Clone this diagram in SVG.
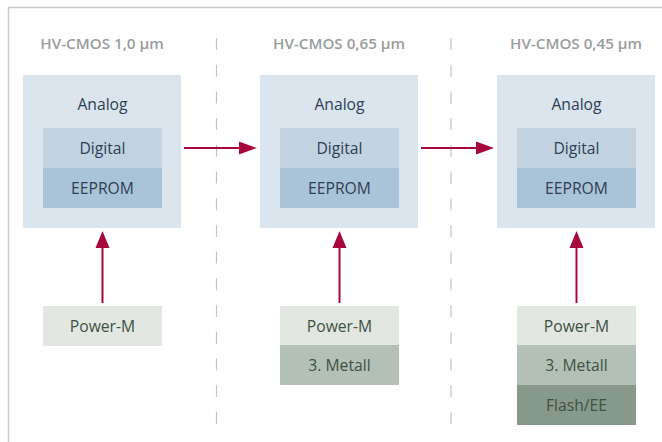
<svg xmlns="http://www.w3.org/2000/svg" width="662" height="442" viewBox="0 0 662 442">
  <style>
    .frame { fill: none; stroke: #c6d0c7; stroke-width: 1.5; }
    .sep { fill: none; stroke: #b9c9bd; stroke-width: 1.2; stroke-dasharray: 12 14.7; }
    .title { font-family: "Open Sans", "Liberation Sans", sans-serif; font-weight: 600; font-size: 15.2px; fill: #9a9c9c; text-anchor: middle; }
    .lbl { font-family: "Open Sans", "Liberation Sans", sans-serif; font-size: 15.7px; fill: #2c3f55; text-anchor: middle; }
    .lblg { font-family: "Open Sans", "Liberation Sans", sans-serif; font-size: 15.7px; fill: #3d5244; text-anchor: middle; }
    .analog { fill: #dbe5ed; }
    .digital { fill: #c3d3e1; }
    .eeprom { fill: #abc3d6; }
    .power { fill: #e2e7e1; }
    .metall { fill: #b3c0b5; }
    .flash { fill: #87998a; }
    .conn { stroke: #a6083d; stroke-width: 2; fill: none; }
    .head { fill: #a6083d; }
  </style>

  <!-- frame and column separators -->
  <path class="frame" d="M8.5,442 V7.5 H662"/>
  <line class="sep" x1="216.5" y1="38" x2="216.5" y2="424"/>
  <line class="sep" x1="451" y1="38" x2="451" y2="424"/>

  <!-- column titles -->
  <text class="title" x="102" y="49">HV-CMOS 1,0 µm</text>
  <text class="title" x="339" y="49">HV-CMOS 0,65 µm</text>
  <text class="title" x="576" y="49">HV-CMOS 0,45 µm</text>

  <!-- generation 1 -->
  <g id="chip1">
    <rect class="analog" x="23" y="75" width="158" height="153"/>
    <text class="lbl" x="102.5" y="110">Analog</text>
    <rect class="digital" x="43" y="128" width="119" height="40"/>
    <text class="lbl" x="102.5" y="154">Digital</text>
    <rect class="eeprom" x="43" y="168" width="119" height="40"/>
    <text class="lbl" x="102.5" y="194">EEPROM</text>
  </g>
  <g id="process1">
    <rect class="power" x="43" y="306" width="119" height="40"/>
    <text class="lblg" x="102.5" y="332">Power-M</text>
  </g>

  <!-- generation 2 -->
  <g id="chip2">
    <rect class="analog" x="260" y="75" width="158" height="153"/>
    <text class="lbl" x="339.5" y="110">Analog</text>
    <rect class="digital" x="280" y="128" width="119" height="40"/>
    <text class="lbl" x="339.5" y="154">Digital</text>
    <rect class="eeprom" x="280" y="168" width="119" height="40"/>
    <text class="lbl" x="339.5" y="194">EEPROM</text>
  </g>
  <g id="process2">
    <rect class="power" x="280" y="306" width="119" height="39"/>
    <text class="lblg" x="339.5" y="332">Power-M</text>
    <rect class="metall" x="280" y="345" width="119" height="40"/>
    <text class="lblg" x="339.5" y="371">3. Metall</text>
  </g>

  <!-- generation 3 -->
  <g id="chip3">
    <rect class="analog" x="497" y="75" width="158" height="153"/>
    <text class="lbl" x="576.5" y="110">Analog</text>
    <rect class="digital" x="517" y="128" width="119" height="40"/>
    <text class="lbl" x="576.5" y="154">Digital</text>
    <rect class="eeprom" x="517" y="168" width="119" height="40"/>
    <text class="lbl" x="576.5" y="194">EEPROM</text>
  </g>
  <g id="process3">
    <rect class="power" x="517" y="306" width="119" height="39"/>
    <text class="lblg" x="576.5" y="332">Power-M</text>
    <rect class="metall" x="517" y="345" width="119" height="40"/>
    <text class="lblg" x="576.5" y="371">3. Metall</text>
    <rect class="flash" x="517" y="385" width="119" height="40"/>
    <text class="lblg" x="576.5" y="411">Flash/EE</text>
  </g>

  <!-- connectors -->
  <g id="connectors">
    <line class="conn" x1="184" y1="148" x2="241" y2="148"/>
    <polygon class="head" points="239,141.5 257,148 239,154.5"/>
    <line class="conn" x1="421" y1="148" x2="478" y2="148"/>
    <polygon class="head" points="476,141.5 494,148 476,154.5"/>

    <line class="conn" x1="102.5" y1="303" x2="102.5" y2="246"/>
    <polygon class="head" points="95.5,248 102.5,231 109.5,248"/>
    <line class="conn" x1="339.5" y1="303" x2="339.5" y2="246"/>
    <polygon class="head" points="332.5,248 339.5,231 346.5,248"/>
    <line class="conn" x1="576.5" y1="303" x2="576.5" y2="246"/>
    <polygon class="head" points="569.5,248 576.5,231 583.5,248"/>
  </g>
</svg>
